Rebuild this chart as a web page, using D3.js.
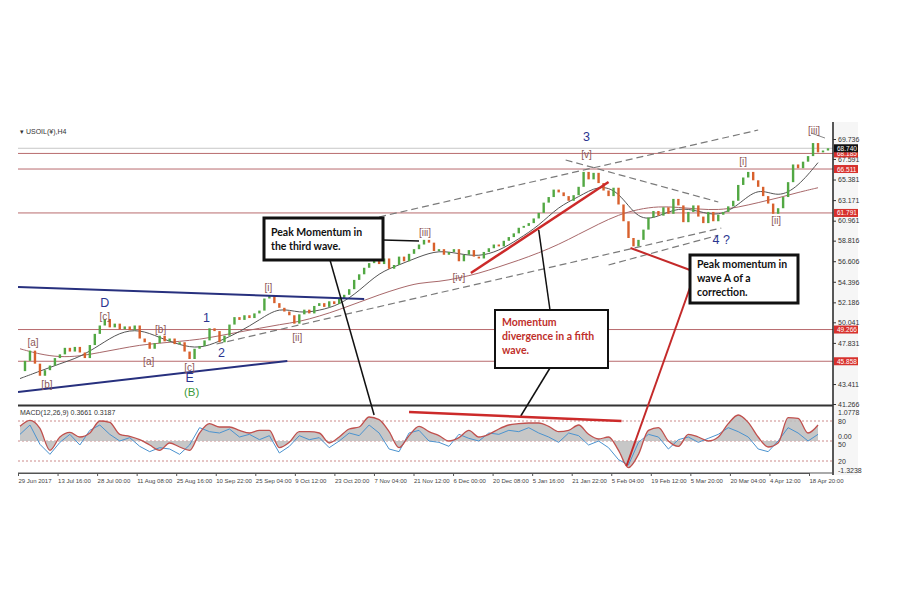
<!DOCTYPE html>
<html>
<head>
<meta charset="utf-8">
<script src="https://cdn.jsdelivr.net/npm/d3@7"></script>
<style>
  body { margin: 0; background: #fff; }
  svg { display: block; font-family: "Liberation Sans", Arial, sans-serif; }
</style>
</head>
<body>
<svg id="chart" width="900" height="600"></svg>
<script>
// ---- data ----
// H4 closes, one value every ~5px of the original
const closes = [
  44.8,45.9,47.0,45.6,44.3,44.9,45.4,46.2,46.6,47.3,
  46.9,47.4,46.8,46.2,47.6,48.8,49.7,50.4,49.5,49.9,
  49.3,49.6,49.2,49.7,48.3,47.9,47.2,47.8,48.6,48.0,
  48.3,47.7,47.9,46.9,46.1,47.2,47.5,48.1,49.4,49.1,
  47.9,48.6,49.8,50.6,50.3,50.8,50.5,51.0,51.3,52.6,
  52.9,52.1,51.6,51.2,50.8,49.9,50.9,51.4,51.0,51.8,
  52.1,51.7,52.3,52.0,52.6,53.0,53.6,54.6,55.2,55.9,
  56.4,57.0,56.3,56.9,55.8,56.2,57.1,56.6,57.4,57.9,
  58.4,58.9,58.6,57.7,57.9,57.3,57.6,57.9,56.6,57.3,
  57.8,57.1,56.9,57.6,58.0,58.4,58.2,58.8,59.2,59.6,
  60.2,60.4,60.7,61.2,61.8,62.9,63.5,64.3,64.0,63.6,
  63.1,63.7,64.6,66.2,65.4,66.1,65.0,64.2,63.6,64.5,
  62.7,60.9,59.1,58.2,58.9,60.0,61.3,62.0,61.5,62.4,
  61.7,63.3,62.6,60.8,61.9,62.6,61.4,60.7,61.9,60.9,
  61.6,61.9,62.5,63.1,64.8,65.6,66.2,65.3,64.6,63.6,
  62.8,61.7,62.3,63.5,65.1,67.0,66.6,67.3,67.9,69.3,
  68.3,68.5,68.74
];
// moving averages, one value every 4 bars
const fastMA = [44.0,44.8,45.6,46.3,47.6,49.0,49.3,48.4,47.6,47.2,48.0,49.0,50.3,51.7,51.0,51.3,51.9,53.4,55.4,56.2,
  57.1,57.8,57.4,57.1,57.7,59.0,60.4,62.5,63.5,64.8,64.2,60.9,61.4,62.4,62.0,61.4,62.6,64.6,63.4,64.6,67.2];
const slowMA = [47.2,46.6,46.3,46.4,46.8,47.2,47.6,47.8,48.0,48.2,48.6,49.0,49.4,49.8,50.1,50.7,51.4,52.2,53.0,53.7,
  54.3,54.4,54.8,55.3,56.0,56.7,57.5,58.4,59.5,60.6,61.6,62.2,62.5,62.4,62.2,62.1,62.4,62.9,63.4,64.0,64.5];
// oscillator panel, one value every 2 bars
const macdRed = [72,81,69,36,56,63,56,62,80,78, 60,57,52,44,36,47,41,36,62,76, 71,71,66,62,66,66,40,48,64,64,
  62,47,56,68,71,86,82,64,40,58, 72,64,58,50,55,66,56,60,68,74, 76,77,77,72,64,66,74,60,53,56,
  36,10,30,66,70,50,42,60,56,50, 56,76,89,78,56,41,47,85,84,62, 74];
const macdBlue = [60,74,45,30,48,60,44,66,74,60, 50,55,42,34,40,38,30,44,70,64, 62,68,56,60,52,58,32,42,58,52,
  55,40,50,62,58,74,62,38,34,62, 66,50,48,42,60,54,50,62,60,66, 64,70,62,56,48,62,58,44,50,40,
  22,14,48,60,56,38,52,56,48,54, 60,70,64,56,38,34,50,70,62,50, 60];

const dateLabels = ["29 Jun 2017","13 Jul 16:00","28 Jul 00:00","11 Aug 08:00","25 Aug 16:00","10 Sep 22:00",
  "25 Sep 04:00","9 Oct 12:00","23 Oct 20:00","7 Nov 04:00","21 Nov 12:00","6 Dec 00:00","20 Dec 08:00",
  "5 Jan 16:00","21 Jan 22:00","5 Feb 04:00","19 Feb 12:00","5 Mar 20:00","20 Mar 04:00","4 Apr 12:00","18 Apr 20:00"];
const priceTicks = [69.736,67.591,65.381,63.171,60.961,58.816,56.606,54.396,52.186,50.041,47.831,43.411,41.266];
const levelLines = [68.185,66.511,61.791,49.266,45.858];
const lastPrice = 68.740;

// trend lines: [bar, price] pairs
const navyLines = [[[-0.4,53.84],[69,52.55]], [[-0.4,42.56],[53.6,45.89]]];
const dashedLines = [[[72,61.36],[148,70.70]], [[39.4,47.71],[140.6,60.17]], [[118,56.2],[140,59.4]], [[109.4,67.48],[140,62.97]]];
const greyLines = [[[158.6,70.38],[161.4,69.84]]];
const redLines = [[[90.4,55.34],[118,65.12]]];

// wave counts: text, bar, price, kind
const waveLabels = [
  ["3",113.6,69.94,"n"],["[v]",113.6,68.02,"b"],["[iii]",81.2,59.64,"b"],["[iv]",88,54.91,"b"],
  ["4 ?",140.6,58.89,"n"],["[i]",145,67.37,"b"],["[ii]",151.6,61.03,"b"],["[iii]",159.2,70.6,"b"],
  ["D",17,52.12,"n"],["[c]",17,50.72,"b"],["[a]",2.6,47.82,"b"],["[b]",5.4,43.33,"b"],
  ["[b]",28.2,49.22,"b"],["[a]",25.8,45.78,"b"],["[c]",34,45.2,"b"],["E",34,44.05,"n"],
  ["(B)",34.4,42.55,"g"],["1",37.4,50.51,"n"],["2",40.4,46.75,"n"],["[i]",49.8,53.73,"b"],["[ii]",55.6,48.36,"b"]
];

// ---- layout ----
const svg = d3.select("#chart");
const L = 18, R = 833, T = 122, B = 405, MT = 407, MB = 473;

const x = d3.scaleLinear().domain([0, closes.length - 1]).range([20, 828]);
const y = d3.scaleLinear().domain([41.266, 69.736]).range([404, 139]);
const ym = d3.scaleLinear().domain([20, 80]).range([461, 421]);
const xd = d3.scalePoint().domain(dateLabels).range([18, 809]);

svg.append("rect").attr("x", R).attr("y", T).attr("width", 25).attr("height", MB - T + 2).attr("fill", "#f6f6f6");

svg.append("defs").append("clipPath").attr("id", "mainClip")
  .append("rect").attr("x", L).attr("y", T).attr("width", R - L).attr("height", B - T);
svg.select("defs").append("clipPath").attr("id", "macdClip")
  .append("rect").attr("x", L).attr("y", MT).attr("width", R - L).attr("height", MB - MT);

const main = svg.append("g").attr("clip-path", "url(#mainClip)");

// horizontal levels
main.append("line").attr("x1", L).attr("x2", R).attr("y1", y(lastPrice)).attr("y2", y(lastPrice))
  .attr("stroke", "#c8c8c8").attr("stroke-width", 1);
main.selectAll(".lvl").data(levelLines).join("line")
  .attr("x1", L).attr("x2", R).attr("y1", d => y(d)).attr("y2", d => y(d))
  .attr("stroke", "#b86b6e").attr("stroke-width", 1);

const seg = d3.line().x(d => x(d[0])).y(d => y(d[1]));

main.selectAll(".dash").data(dashedLines).join("path")
  .attr("d", seg).attr("fill", "none").attr("stroke", "#7a7a7a").attr("stroke-width", 1.2)
  .attr("stroke-dasharray", "7,4");
main.selectAll(".grey").data(greyLines).join("path")
  .attr("d", seg).attr("fill", "none").attr("stroke", "#888").attr("stroke-width", 1);

// moving averages
const maLine = d3.line().x((d, i) => x(i * 4)).y(d => y(d)).curve(d3.curveBasis);
main.append("path").datum(slowMA).attr("d", maLine).attr("fill", "none")
  .attr("stroke", "#a8686a").attr("stroke-width", 1);
main.append("path").datum(fastMA).attr("d", maLine).attr("fill", "none")
  .attr("stroke", "#555").attr("stroke-width", 1);

// candles
main.selectAll(".candle").data(closes.slice(1)).join("rect")
  .attr("x", (d, i) => x(i + 1) - 1.2)
  .attr("width", 2.4)
  .attr("y", (d, i) => y(Math.max(d, closes[i])))
  .attr("height", (d, i) => Math.max(1.2, Math.abs(y(d) - y(closes[i]))))
  .attr("fill", (d, i) => d >= closes[i] ? "#52a843" : "#d8602c");

main.selectAll(".navy").data(navyLines).join("path")
  .attr("d", seg).attr("fill", "none").attr("stroke", "#27307e").attr("stroke-width", 2);
main.selectAll(".red").data(redLines).join("path")
  .attr("d", seg).attr("fill", "none").attr("stroke", "#cc2a2a").attr("stroke-width", 2.5);

// wave labels
const waveStyle = {
  n: { fill: "#2b3590", size: 12.5 },
  b: { fill: "#8c5858", size: 10 },
  g: { fill: "#3b9a3b", size: 11.5 }
};
svg.selectAll(".wave").data(waveLabels).join("text")
  .attr("x", d => x(d[1])).attr("y", d => y(d[2]))
  .attr("text-anchor", "middle").attr("dominant-baseline", "central")
  .attr("fill", d => waveStyle[d[3]].fill)
  .attr("font-size", d => waveStyle[d[3]].size + "px")
  .text(d => d[0]);

// price axis
svg.append("line").attr("x1", R).attr("x2", R).attr("y1", T).attr("y2", MB + 2)
  .attr("stroke", "#222").attr("stroke-width", 1.5);
const yAxis = svg.append("g").attr("transform", `translate(${R},0)`)
  .call(d3.axisRight(y).tickValues(priceTicks).tickSize(3).tickFormat(d3.format(".3f")));
yAxis.select(".domain").remove();
yAxis.selectAll("text").attr("font-size", "7px").attr("fill", "#333").attr("x", 5);
yAxis.selectAll("line").attr("stroke", "#333");

const tags = levelLines.map(v => ({ v, c: "#d7312d" })).concat([{ v: lastPrice, c: "#111" }]);
const tag = svg.selectAll(".tag").data(tags).join("g")
  .attr("transform", d => `translate(${R + 1},${y(d.v)})`);
tag.append("rect").attr("x", 0).attr("y", -4).attr("width", 24).attr("height", 8).attr("fill", d => d.c);
tag.append("text").attr("x", 3).attr("y", 0).attr("dominant-baseline", "central")
  .attr("fill", "#fff").attr("font-size", "6.5px").text(d => d.v.toFixed(3));

svg.append("text").attr("x", 20).attr("y", 134).attr("font-size", "7px").attr("fill", "#333")
  .text("▾ USOIL(¥),H4");

// panel separator
svg.append("line").attr("x1", L).attr("x2", R).attr("y1", 405.5).attr("y2", 405.5)
  .attr("stroke", "#333").attr("stroke-width", 2);

// ---- oscillator panel ----
const macd = svg.append("g").attr("clip-path", "url(#macdClip)");
macd.selectAll(".lvl").data([80, 50, 20]).join("line")
  .attr("x1", L).attr("x2", R).attr("y1", d => ym(d)).attr("y2", d => ym(d))
  .attr("stroke", "#cc8a8a").attr("stroke-width", 1).attr("stroke-dasharray", "2,2");
macd.append("path").datum(macdRed)
  .attr("d", d3.area().x((d, i) => x(i * 2)).y0(ym(50)).y1(d => ym(d)).curve(d3.curveMonotoneX))
  .attr("fill", "#bdbdbd").attr("opacity", 0.85);
macd.append("path").datum(macdBlue)
  .attr("d", d3.line().x((d, i) => x(i * 2)).y(d => ym(d)).curve(d3.curveLinear))
  .attr("fill", "none").attr("stroke", "#4b93cf").attr("stroke-width", 1);
macd.append("path").datum(macdRed)
  .attr("d", d3.line().x((d, i) => x(i * 2)).y(d => ym(d)).curve(d3.curveMonotoneX))
  .attr("fill", "none").attr("stroke", "#c0504d").attr("stroke-width", 1.3);

svg.append("text").attr("x", 20).attr("y", 415).attr("font-size", "7px").attr("fill", "#333")
  .text("MACD(12,26,9) 0.3661 0.3187");

const macdLabels = [["1.0778", 93.5], ["80", 80], ["0.00", 57], ["50", 45], ["20", 20], ["-1.3238", 6.5]];
svg.selectAll(".mlab").data(macdLabels).join("text")
  .attr("x", R + 5).attr("y", d => ym(d[1])).attr("dominant-baseline", "central")
  .attr("font-size", "7px").attr("fill", "#333").text(d => d[0]);

// date axis
const xAxis = svg.append("g").attr("transform", `translate(0,${MB})`)
  .call(d3.axisBottom(xd).tickSize(3).tickSizeOuter(0));
xAxis.select(".domain").attr("stroke", "#555");
xAxis.selectAll("text").attr("font-size", "6px").attr("fill", "#444")
  .attr("text-anchor", "start").attr("dx", "0px").attr("y", 6);
xAxis.selectAll("line").attr("stroke", "#555");
svg.append("line").attr("x1", L).attr("x2", R).attr("y1", MB).attr("y2", MB).attr("stroke", "#555");

// ---- callouts ----
function box(bx, by, bw, bh, sw, first, lines, color) {
  svg.append("rect").attr("x", bx).attr("y", by).attr("width", bw).attr("height", bh)
    .attr("fill", "#fff").attr("stroke", "#111").attr("stroke-width", sw);
  svg.selectAll(null).data(lines).join("text")
    .attr("x", bx + 7).attr("y", (d, i) => by + first + i * 14)
    .attr("font-family", "Lato, 'Open Sans', sans-serif").attr("font-weight", "bold")
    .attr("font-size", "10.5px").attr("fill", color).text(d => d);
}

// connectors drawn first so boxes sit on top
svg.append("line").attr("x1", 383).attr("y1", 240).attr("x2", x(80)).attr("y2", y(58.78))
  .attr("stroke", "#111").attr("stroke-width", 1.5);
svg.append("line").attr("x1", 330).attr("y1", 260).attr("x2", x(71)).attr("y2", ym(89))
  .attr("stroke", "#111").attr("stroke-width", 1.5);
svg.append("line").attr("x1", x(104)).attr("y1", y(59.96)).attr("x2", 550).attr("y2", 310)
  .attr("stroke", "#111").attr("stroke-width", 1.5);
svg.append("line").attr("x1", 550).attr("y1", 368).attr("x2", x(100.4)).attr("y2", ym(87.5))
  .attr("stroke", "#111").attr("stroke-width", 1.5);
svg.append("line").attr("x1", x(122.4)).attr("y1", y(58.03)).attr("x2", 690).attr("y2", 270)
  .attr("stroke", "#c42a2a").attr("stroke-width", 2);
svg.append("line").attr("x1", 692).attr("y1", 282).attr("x2", x(121.6)).attr("y2", ym(12.5))
  .attr("stroke", "#c42a2a").attr("stroke-width", 2);
svg.append("path").datum([[78, 93.5], [120.6, 80]])
  .attr("d", d3.line().x(d => x(d[0])).y(d => ym(d[1])))
  .attr("stroke", "#cc2a2a").attr("stroke-width", 2.5).attr("fill", "none");

box(264, 218, 119, 42, 3, 18, ["Peak Momentum in", "the third wave."], "#111");
box(495, 310, 113, 58, 2, 16, ["Momentum", "divergence in a fifth", "wave."], "#c0302b");
box(690, 255, 108, 48, 3, 13, ["Peak momentum in", "wave A of a", "correction."], "#111");
</script>
</body>
</html>
